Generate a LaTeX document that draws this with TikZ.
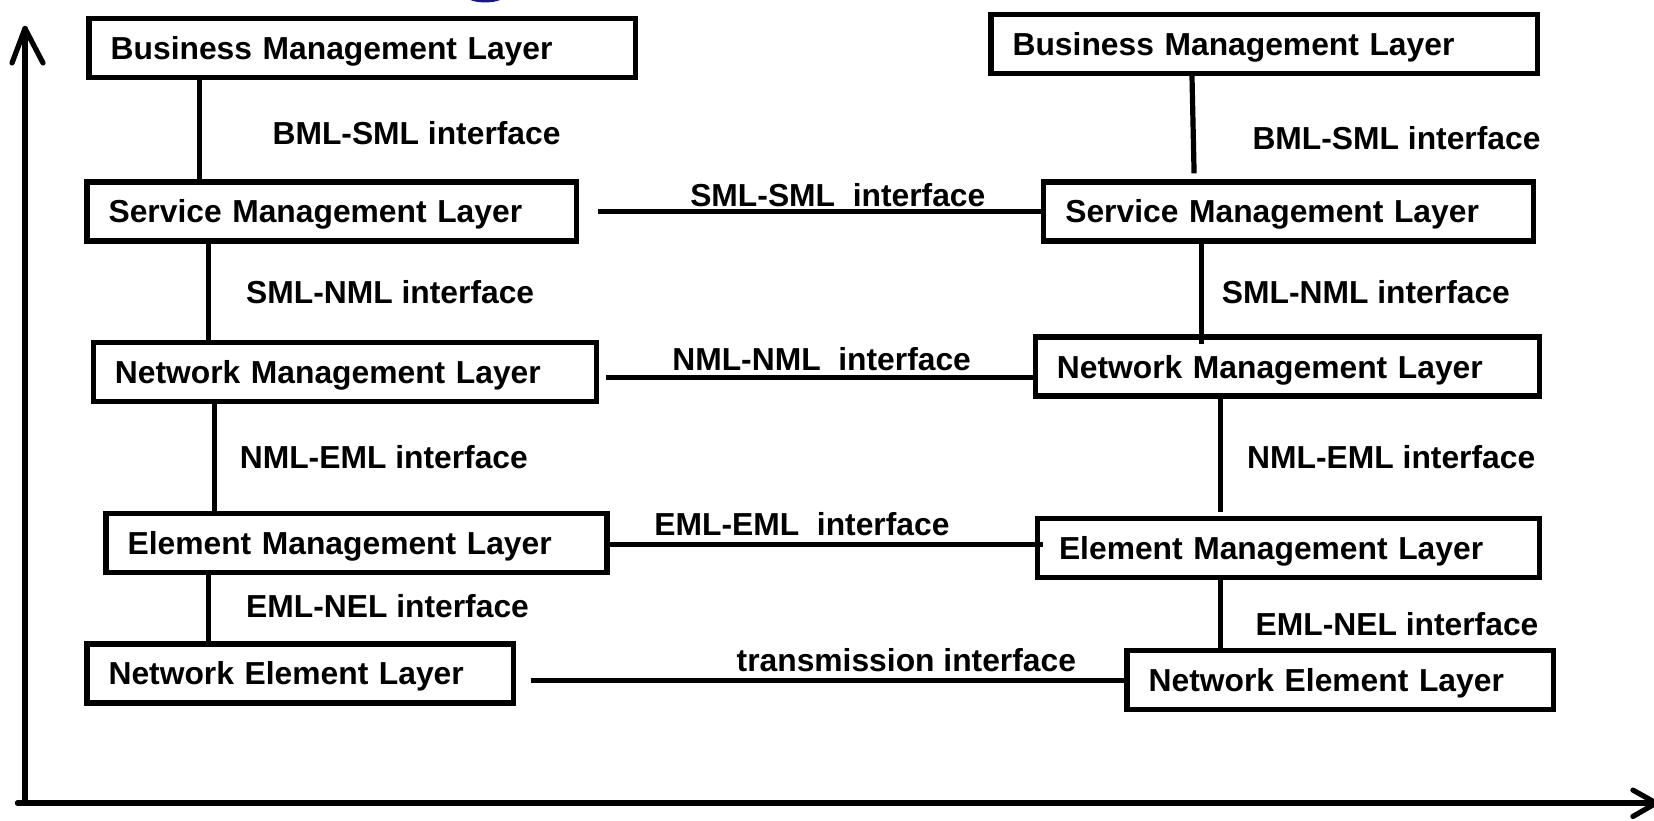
\documentclass[tikz,border=0pt]{standalone}
\usepackage{fontspec}
\setmainfont{Liberation Sans}
\definecolor{arcblue}{RGB}{25,25,120}
\begin{document}
\begin{tikzpicture}[x=0.5274pt,y=-0.5274pt,
  txt/.style={font=\fontsize{15.9pt}{19pt}\selectfont\bfseries},
  layerbox/.style={txt,draw,line width=2.6pt,anchor=north west,inner xsep=10.8pt,inner ysep=0pt,minimum height=29.5pt,align=left,text depth=0pt},
  lbl/.style={txt,anchor=west,inner sep=0pt},
  conn/.style={line width=2.6pt},
  axis/.style={line width=2.6pt,line cap=round,line join=round}]
\useasboundingbox (0,0) rectangle (1568,778.3);
\fill[arcblue] (446,0) .. controls (452,3) and (468,3) .. (474,0) -- cycle;
% left column
\node[layerbox,text width=251.6pt] (bl1) at (82,15) {Business Management Layer};
\node[layerbox,text width=223.1pt] (sl1) at (80,170) {Service Management Layer};
\node[layerbox,text width=230.0pt] (nl1) at (86,322) {Network Management Layer};
\node[layerbox,text width=228.9pt] (el1) at (98,484) {Element Management Layer};
\node[layerbox,text width=191.5pt] (nel1) at (80,608) {Network Element Layer};
% right column
\node[layerbox,text width=251.6pt] (bl2) at (937,11) {Business Management Layer};
\node[layerbox,text width=223.1pt] (sl2) at (987,170) {Service Management Layer};
\node[layerbox,text width=230.5pt] (nl2) at (979,317) {Network Management Layer};
\node[layerbox,text width=229.4pt] (el2) at (981,489) {Element Management Layer};
\node[layerbox,text width=191.5pt] (nel2) at (1066,614) {Network Element Layer};
% left vertical connectors
\draw[conn] (bl1.south -| 189,0) -- (sl1.north -| 189,0);
\draw[conn] (sl1.south -| 198,0) -- (nl1.north -| 198,0);
\draw[conn] (nl1.south -| 203,0) -- (el1.north -| 203,0);
\draw[conn] (el1.south -| 198,0) -- (nel1.north -| 198,0);
% right vertical connectors
\draw[conn] (bl2.south -| 1130,0) -- ([yshift=3pt]sl2.north -| 1132,0);
\draw[conn] (sl2.south -| 1139,0) -- ([yshift=-5pt]nl2.north -| 1139,0);
\draw[conn] (nl2.south -| 1157,0) -- ([yshift=2pt]el2.north -| 1157,0);
\draw[conn] (el2.south -| 1157,0) -- (nel2.north -| 1157,0);
% horizontal connectors
\draw[conn] ([xshift=9.5pt]sl1.east) -- (sl2.west);
\draw[conn] ([xshift=3.5pt]nl1.east |- 0,358) -- (nl2.west |- 0,358);
\draw[conn] (el1.east |- 0,516) -- ([xshift=4pt]el2.west |- 0,516);
\draw[conn] ([xshift=7.5pt]nel1.east |- 0,645) -- (nel2.west |- 0,645);
% labels
\node[lbl] (l1) at (258,126) {BML-SML interface};
\node[lbl] (l2) at (233,277) {SML-NML interface};
\node[lbl] (l3) at (227,433) {NML-EML interface};
\node[lbl] (l4) at (233,575) {EML-NEL interface};
\node[lbl] (r1) at (1187,131) {BML-SML interface};
\node[lbl] (r2) at (1158,277) {SML-NML interface};
\node[lbl] (r3) at (1182,433) {NML-EML interface};
\node[lbl] (r4) at (1190,592) {EML-NEL interface};
\node[lbl] (h1) at (654,185) {SML-SML\ \ interface};
\node[lbl] (h2) at (637,340) {NML-NML\ \ interface};
\node[lbl] (h3) at (620,497) {EML-EML\ \ interface};
\node[lbl] (h4) at (698,626) {transmission interface};
% axes
\coordinate (origin) at (23.7,761.3);
\coordinate (ytip) at (23.7,27);
\coordinate (xtip) at (1570,761.3);
\draw[axis] (origin) -- (ytip);
\draw[axis] (11.4,59.7) -- (ytip) -- (40.8,59.7);
\draw[axis] (16.5,761.3) -- (xtip);
\draw[axis] (1548,749) -- (xtip) -- (1548,774);
\end{tikzpicture}
\end{document}
